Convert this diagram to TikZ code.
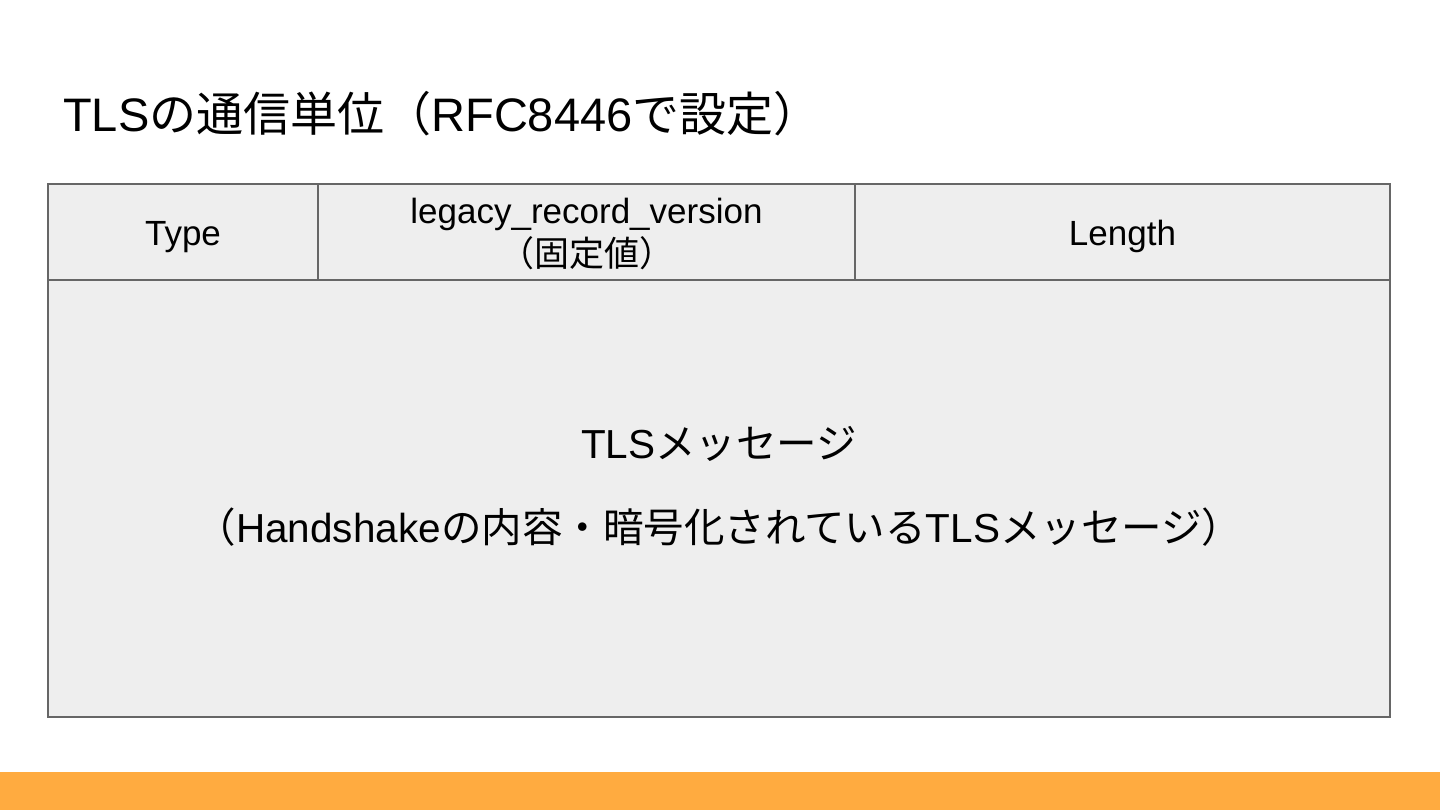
\documentclass[tikz,border=0pt]{standalone}
\usepackage{fontspec}
\setmainfont{Liberation Sans}
\newfontfamily\jp{Noto Sans CJK JP}
\definecolor{barorange}{RGB}{255,171,64}
\definecolor{cellfill}{RGB}{238,238,238}
\definecolor{cellline}{RGB}{102,102,102}
\tikzset{
  cell/.style={draw=cellline, line width=1.5pt, fill=cellfill, inner sep=0pt, outer sep=0pt,
    anchor=north west, align=center, text=black},
  headtext/.style={font=\fontsize{35}{43}\selectfont},
  oneline/.style={text height=35pt, text depth=7pt},
  bodytext/.style={font=\fontsize{40.5}{48}\selectfont, inner sep=0pt, anchor=base},
}
\begin{document}
\begin{tikzpicture}[x=1pt,y=-1pt]
\useasboundingbox (0,0) rectangle (1440,810);
\fill[barorange] (0,772) rectangle (1440,810);
\node[anchor=base west, inner sep=0pt, font=\fontsize{47}{56}\selectfont] (title) at (63,132)
  {TLS{\jp の通信単位（}RFC8446{\jp で設定）}};
\node[cell, minimum width=1342pt, minimum height=437pt] (body) at (48,280) {};
\node[bodytext] (bodyline1) at (719,458) {TLS{\jp メッセージ}};
\node[bodytext] (bodyline2) at (719,542)
  {{\jp （}Handshake{\jp の内容・暗号化されている}TLS{\jp メッセージ）}};
\node[cell, headtext, oneline, minimum width=270pt, minimum height=96pt] (type) at (48,184) {Type};
\node[cell, minimum width=537pt, minimum height=96pt] (ver) at (318,184) {};
\node[headtext, align=center, inner sep=0pt, yshift=-2pt] (verlabel) at (ver.center)
  {legacy\_record\_version\\{\jp （固定値）}};
\node[cell, headtext, oneline, minimum width=535pt, minimum height=96pt] (len) at (855,184) {Length};
\end{tikzpicture}
\end{document}
